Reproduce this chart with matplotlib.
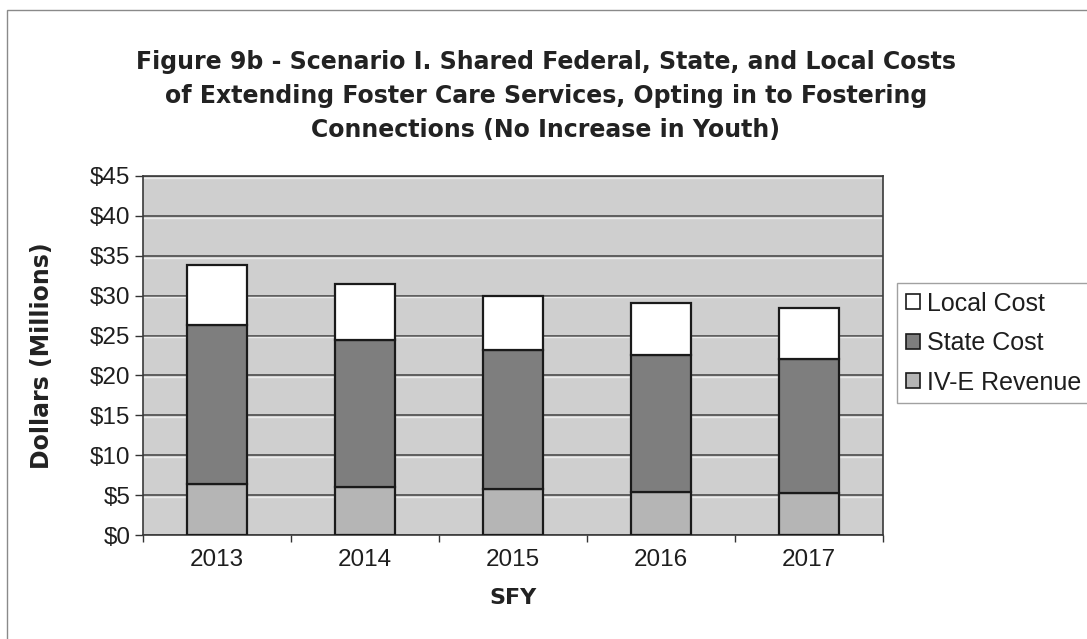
import matplotlib.pyplot as plt
from matplotlib.patches import Rectangle, Patch
import numpy as np

years = ['2013', '2014', '2015', '2016', '2017']
ive_revenue = [6.4, 6.0, 5.75, 5.4, 5.3]
state_cost = [19.9, 18.5, 17.5, 17.2, 16.8]
local_cost = [7.5, 7.0, 6.65, 6.5, 6.4]

series_names = ['Local Cost', 'State Cost', 'IV-E Revenue']
series_colors = ['#ffffff', '#7e7e7e', '#b5b5b5']

WIDE_BOLD = dict(family='DejaVu Sans', fontweight='bold', color='#222222')


def main():
    plt.rcParams['font.family'] = ['Liberation Sans', 'DejaVu Sans']
    fig = plt.figure(figsize=(10.87, 6.39), dpi=100)
    fig.patch.set_facecolor('white')

    # thin frame around the chart
    fig.patches.append(Rectangle((7 / 1087, -0.1), 1.2, 1 - 10 / 639 + 0.1,
                                 transform=fig.transFigure, fill=False,
                                 edgecolor='#8a8a8a', lw=1.0))

    ax = fig.add_axes([143 / 1087, 1 - 535 / 639, 740 / 1087, 359 / 639])
    ax.set_facecolor('#cfcfcf')

    x = np.arange(len(years))
    bottom_state = np.array(ive_revenue)
    bottom_local = bottom_state + np.array(state_cost)

    kw = dict(width=0.41, edgecolor='#1a1a1a', linewidth=1.6, zorder=3)
    ax.bar(x, ive_revenue, color=series_colors[2], **kw)
    ax.bar(x, state_cost, bottom=bottom_state, color=series_colors[1], **kw)
    ax.bar(x, local_cost, bottom=bottom_local, color=series_colors[0], **kw)

    ax.set_xlim(-0.5, len(years) - 0.5)
    ax.set_ylim(0, 45)
    ax.set_yticks(np.arange(0, 46, 5))
    ax.set_yticklabels(['$%d' % v for v in range(0, 46, 5)])
    ax.set_xticks(x)
    ax.set_xticklabels(years)
    ax.set_xticks(np.arange(-0.5, len(years)), minor=True)

    ax.yaxis.grid(True, color='#4a4a4a', lw=1.2, zorder=1)
    for v in range(5, 46, 5):
        ax.axhline(v - 0.22, color='#ececec', lw=1.0, zorder=1)
    ax.set_axisbelow(True)

    for side in ['top', 'right', 'left', 'bottom']:
        ax.spines[side].set_color('#3a3a3a')
        ax.spines[side].set_linewidth(1.2)

    ax.tick_params(axis='y', length=6, width=1, color='#333333',
                   labelsize=17.5, labelcolor='#1e1e1e', pad=3)
    ax.tick_params(axis='x', which='major', length=0, labelsize=17.5,
                   labelcolor='#1e1e1e', pad=10)
    ax.tick_params(axis='x', which='minor', length=5, width=1, color='#333333')

    ax.set_xlabel('SFY', fontsize=16, labelpad=12, **WIDE_BOLD)
    ax.set_ylabel('Dollars (Millions)', fontsize=17, **WIDE_BOLD)
    ax.yaxis.set_label_coords(-(143 - 54) / 740, 0.5)

    fig.text(0.502, 1 - 96 / 639,
             'Figure 9b - Scenario I. Shared Federal, State, and Local Costs\n'
             'of Extending Foster Care Services, Opting in to Fostering\n'
             'Connections (No Increase in Youth)',
             ha='center', va='center', fontsize=17, linespacing=1.55,
             **WIDE_BOLD)

    handles = [Patch(facecolor=c, edgecolor='#1a1a1a', lw=1.2)
               for c in series_colors]
    leg = fig.legend(handles, series_names, loc='upper left',
                     bbox_to_anchor=(897 / 1087, 1 - 283 / 639),
                     fontsize=18, frameon=True, fancybox=False,
                     handlelength=0.55, handleheight=0.55, handletextpad=0.3,
                     labelspacing=0.62, borderpad=0.35, borderaxespad=0)
    leg.get_frame().set_edgecolor('#8a8a8a')
    leg.get_frame().set_linewidth(1.0)
    for t in leg.get_texts():
        t.set_color('#1e1e1e')

    plt.savefig('out.png', dpi=100)


if __name__ == "__main__":
    main()
